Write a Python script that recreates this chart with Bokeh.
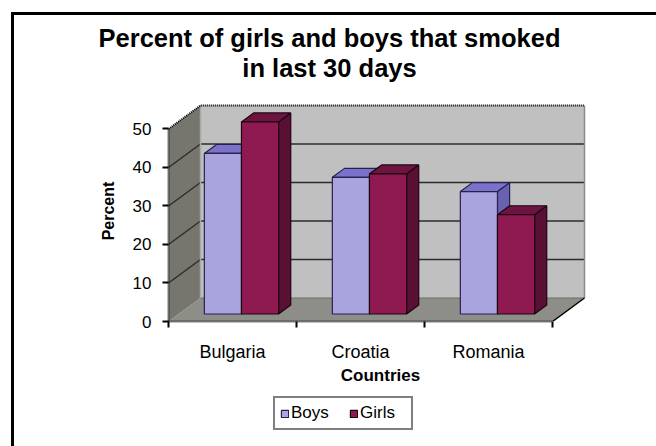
from bokeh.plotting import figure
from bokeh.layouts import column
from bokeh.core.properties import value
from bokeh.models import FixedTicker, Legend, LegendItem, Range1d
from bokeh.embed import file_html
from bokeh.resources import INLINE

# ---- data -------------------------------------------------------------
countries = ["Bulgaria", "Croatia", "Romania"]
boys = [41.7, 35.5, 31.8]
girls = [49.9, 36.4, 25.8]
series_names = ["Boys", "Girls"]
y_ticks = [0, 10, 20, 30, 40, 50]
title_lines = ["Percent of girls and boys that smoked", "in last 30 days"]

# ---- 3-D projection (oblique): depth shifts right/up ---------------------
DEPTH_X = 0.25      # full depth, in category units
DEPTH_Y = 6.1       # full depth, in percent units
Y_TOP = 50          # height of the walls
BAR_W = 0.29        # width of one bar, category units
GROUP_LEFT = 0.2    # left edge of the bar group inside a category
BAR_D0, BAR_D1 = 0.32, 0.70   # front / back depth fraction of the bars

FONT = "Liberation Sans"
N = len(countries)
W = 642

# ---- title strip (its own pixel-sized frame) -----------------------------
TITLE_H = 85
pt = figure(width=W, height=TITLE_H, x_range=Range1d(0, W), y_range=Range1d(0, TITLE_H),
            output_backend="svg", toolbar_location=None, min_border=0,
            x_axis_location=None, y_axis_location=None)
pt.frame_align = False
pt.title = None
pt.outline_line_color = None
pt.grid.visible = False
pt.text(x=[315, 315], y=[63, 33], text=title_lines,
        text_font=value(FONT), text_font_size="25.5px", text_font_style="bold",
        text_color="black", text_align="center", text_baseline="middle")

# ---- main chart -------------------------------------------------------------
p = figure(width=W, height=292,
           x_range=Range1d(0, 3.3125), y_range=Range1d(0, 57.4),
           output_backend="svg", toolbar_location=None,
           min_border_left=154, min_border_right=64,
           min_border_top=0, min_border_bottom=71)
p.title = None
p.outline_line_color = None
p.grid.visible = False
p.background_fill_color = "white"
p.border_fill_color = "white"

# walls
x_end = N
# floor
p.patch([0, x_end, x_end + DEPTH_X, DEPTH_X], [0, 0, DEPTH_Y, DEPTH_Y],
        fill_color="#8e8e89", line_color=None)
# left side wall
p.patch([0, DEPTH_X, DEPTH_X, 0], [0, DEPTH_Y, DEPTH_Y + Y_TOP, Y_TOP],
        fill_color="#76766f", line_color=None)
# back wall
p.patch([DEPTH_X, x_end + DEPTH_X, x_end + DEPTH_X, DEPTH_X],
        [DEPTH_Y, DEPTH_Y, DEPTH_Y + Y_TOP, DEPTH_Y + Y_TOP],
        fill_color="#c0c0c0", line_color=None)

# gridlines on back wall and side wall
grid_vals = [t for t in y_ticks if 0 < t < Y_TOP]
p.multi_line([[DEPTH_X, x_end + DEPTH_X] for _ in grid_vals],
             [[DEPTH_Y + t, DEPTH_Y + t] for t in grid_vals],
             line_color="#2b2b2b", line_width=1.6)
p.multi_line([[0, DEPTH_X] for _ in grid_vals],
             [[t, DEPTH_Y + t] for t in grid_vals],
             line_color="#2b2b2b", line_width=1.4)

# wall edges
p.line([DEPTH_X, x_end + DEPTH_X], [DEPTH_Y, DEPTH_Y], line_color="#6d6d68", line_width=1)
p.line([DEPTH_X, DEPTH_X], [DEPTH_Y, DEPTH_Y + Y_TOP], line_color="#a9a9a9", line_width=1.5)
p.line([x_end + DEPTH_X, x_end + DEPTH_X], [DEPTH_Y, DEPTH_Y + Y_TOP],
       line_color="#8a8a8a", line_width=1.5)
p.line([0, DEPTH_X, x_end + DEPTH_X], [Y_TOP, DEPTH_Y + Y_TOP, DEPTH_Y + Y_TOP],
       line_color="black", line_width=2, line_dash="1 1")
p.line([x_end, x_end + DEPTH_X], [0, DEPTH_Y], line_color="black", line_width=1.5)


# bars
def bar_faces(i, k, v):
    x0 = i + GROUP_LEFT + k * BAR_W
    x1 = x0 + BAR_W
    a, b = BAR_D0 * DEPTH_X, BAR_D0 * DEPTH_Y
    c, d = BAR_D1 * DEPTH_X, BAR_D1 * DEPTH_Y
    front = ([x0 + a, x1 + a, x1 + a, x0 + a], [b, b, b + v, b + v])
    top = ([x0 + a, x1 + a, x1 + c, x0 + c], [b + v, b + v, d + v, d + v])
    side = ([x1 + a, x1 + c, x1 + c, x1 + a], [b, d, d + v, b + v])
    return front, top, side


series = [
    (boys, {"front": "#a9a3de", "top": "#7c72c9", "side": "#6962b0"}, "#25224d"),
    (girls, {"front": "#8f1a52", "top": "#6d1440", "side": "#5a0f34"}, "#1e0511"),
]

for k, (vals, cols, edge) in enumerate(series):
    faces = {"side": ([], []), "top": ([], []), "front": ([], [])}
    for i, v in enumerate(vals):
        f, t, s = bar_faces(i, k, v)
        for name, (xs, ys) in (("front", f), ("top", t), ("side", s)):
            faces[name][0].append(xs)
            faces[name][1].append(ys)
    for name in ("side", "top", "front"):
        p.patches(faces[name][0], faces[name][1], fill_color=cols[name],
                  line_color=edge, line_width=1.2)

# axes
ya = p.yaxis[0]
ya.ticker = FixedTicker(ticks=y_ticks)
ya.bounds = (0, Y_TOP)
ya.axis_label = "Percent"
ya.axis_label_text_font = FONT
ya.axis_label_text_font_style = "bold"
ya.axis_label_text_font_size = "16px"
ya.axis_label_text_color = "black"
ya.axis_label_standoff = 13
ya.major_label_text_font = FONT
ya.major_label_text_font_size = "17px"
ya.major_label_text_color = "black"
ya.major_label_standoff = 11
ya.major_tick_out = 6
ya.major_tick_in = 0
ya.major_tick_line_color = "black"
ya.major_tick_line_width = 2
ya.minor_tick_line_color = None
ya.axis_line_color = "black"
ya.axis_line_width = 2
ya.axis_line_dash = "1 1"

xa = p.xaxis[0]
xa.ticker = FixedTicker(ticks=[i + 0.5 for i in range(N)], minor_ticks=list(range(N + 1)))
xa.major_label_overrides = {i + 0.5: c for i, c in enumerate(countries)}
xa.bounds = (0, N)
xa.axis_label = "Countries"
xa.axis_label_text_font = FONT
xa.axis_label_text_font_style = "bold"
xa.axis_label_text_font_size = "17px"
xa.axis_label_text_color = "black"
xa.axis_label_standoff = 1
xa.major_label_text_font = FONT
xa.major_label_text_font_size = "18px"
xa.major_label_text_color = "black"
xa.major_label_standoff = 14
xa.major_tick_out = 0
xa.major_tick_in = 0
xa.minor_tick_out = 6
xa.minor_tick_in = 0
xa.minor_tick_line_color = "black"
xa.minor_tick_line_width = 2
xa.axis_line_color = "black"
xa.axis_line_width = 2
xa.axis_line_dash = "1 1"

# ---- legend strip under the chart (frame aligned with the chart frame) ----
pl = figure(width=W, height=54, x_range=Range1d(0, 1), y_range=Range1d(0, 1),
            output_backend="svg", toolbar_location=None, min_border=0,
            x_axis_location=None, y_axis_location=None)
pl.title = None
pl.outline_line_color = None
pl.grid.visible = False
pl.border_fill_color = "white"
legend_renderers = [
    pl.patches(xs=[[]], ys=[[]], fill_color=cols["front"], line_color=edge, line_width=1.2)
    for (_, cols, edge) in series
]
legend = Legend(
    items=[LegendItem(label=n, renderers=[r]) for n, r in zip(series_names, legend_renderers)],
    orientation="horizontal", location=(105, 16), margin=0, padding=5,
    glyph_width=9, glyph_height=9, label_standoff=2, spacing=12,
    label_width=46, label_height=18,
    label_text_font=FONT, label_text_font_size="17px", label_text_color="black",
    border_line_color="black", border_line_width=2,
    background_fill_color="white", background_fill_alpha=1,
)
pl.add_layout(legend)

page = column(pt, p, pl, spacing=0)
page.styles = {"margin-left": "11px", "margin-top": "12px",
               "border-left": "3px solid black", "border-top": "3px solid black"}

open("out.html", "w").write(file_html(page, INLINE))
